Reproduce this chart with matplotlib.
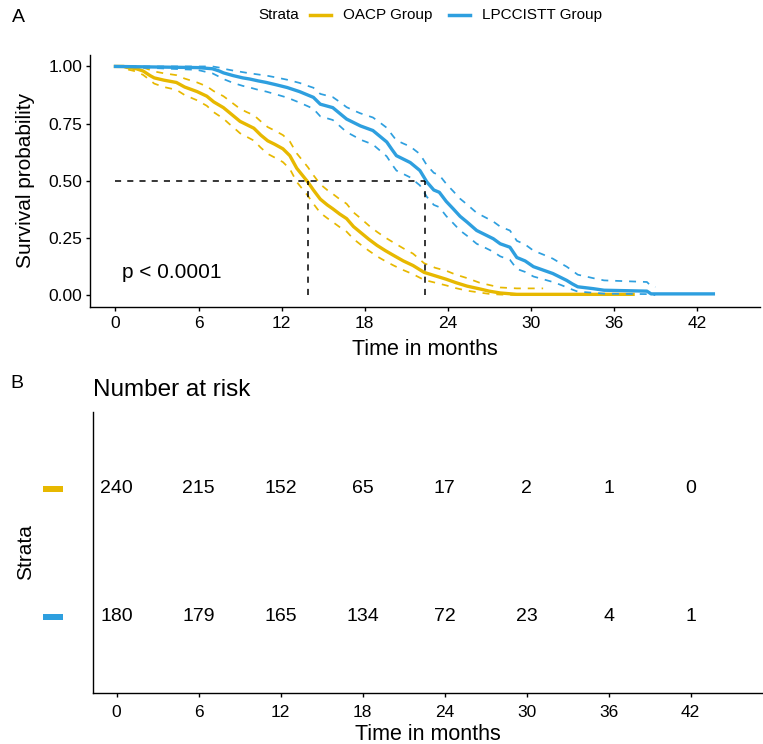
import numpy as np
import matplotlib.pyplot as plt
from matplotlib.lines import Line2D
from matplotlib.patches import Rectangle

plt.rcParams['font.family'] = ['Liberation Sans', 'DejaVu Sans']

W, H = 763, 744
yellow = '#E7B800'
blue = '#2E9FDF'

groups = ['OACP Group', 'LPCCISTT Group']

# Kaplan-Meier curves (time, survival, CI bounds)
oacp_t = [0, 0.6, 0.8, 1.5, 2.0, 2.5, 2.8, 3.5, 4.4, 5.0, 5.9, 6.6, 7.1, 7.8, 8.2, 8.5, 9.0, 9.5,
          10.0, 10.5, 11.0, 11.5, 12.1, 12.6, 13.1, 13.5, 13.9, 14.3, 14.8, 15.3, 15.7, 16.2,
          16.7, 17.2, 17.7, 18.3, 18.9, 19.5, 20.1, 20.8, 21.5, 22.3, 23.1, 23.9, 24.6, 25.4,
          26.3, 27.0, 27.8, 29.0, 30.9, 37.4]
oacp_s = [1.0, 1.0, 0.996, 0.99, 0.98, 0.96, 0.95, 0.94, 0.93, 0.91, 0.89, 0.87, 0.845, 0.82,
          0.80, 0.785, 0.76, 0.745, 0.73, 0.70, 0.675, 0.66, 0.64, 0.61, 0.555, 0.525, 0.495,
          0.46, 0.42, 0.395, 0.378, 0.355, 0.335, 0.30, 0.275, 0.245, 0.218, 0.195, 0.174, 0.15,
          0.13, 0.10, 0.085, 0.07, 0.055, 0.04, 0.028, 0.018, 0.01, 0.004, 0.004, 0.004]
oacp_up = [1.0, 1.0, 1.0, 1.0, 0.995, 0.985, 0.978, 0.97, 0.962, 0.947, 0.93, 0.913, 0.892, 0.87,
           0.852, 0.838, 0.815, 0.80, 0.787, 0.76, 0.735, 0.72, 0.70, 0.672, 0.62, 0.59, 0.56,
           0.525, 0.485, 0.46, 0.443, 0.42, 0.40, 0.362, 0.337, 0.305, 0.277, 0.252, 0.23,
           0.205, 0.182, 0.14, 0.12, 0.107, 0.09, 0.075, 0.055, 0.045, 0.034, 0.03, 0.03, None]
oacp_lo = [1.0, 1.0, 0.988, 0.978, 0.963, 0.94, 0.925, 0.91, 0.898, 0.875, 0.852, 0.828, 0.80,
           0.772, 0.75, 0.735, 0.708, 0.692, 0.676, 0.645, 0.618, 0.602, 0.582, 0.552, 0.495,
           0.465, 0.435, 0.40, 0.36, 0.337, 0.32, 0.298, 0.278, 0.246, 0.222, 0.195, 0.17, 0.149,
           0.13, 0.11, 0.092, 0.067, 0.055, 0.043, 0.031, 0.02, 0.012, 0.006, 0.003, 0.001,
           0.001, 0.001]

lpcc_t = [0, 5.9, 7.0, 7.5, 7.8, 8.5, 9.2, 9.7, 10.3, 10.9, 11.6, 12.4, 13.3, 13.9, 14.3, 14.8,
          15.7, 16.2, 16.7, 17.2, 17.7, 18.6, 19.1, 19.6, 20.0, 20.3, 20.8, 21.3, 22.0, 22.5,
          23.0, 23.4, 23.9, 24.4, 24.9, 25.4, 26.1, 26.8, 27.3, 27.8, 28.5, 29.0, 29.6, 30.2,
          30.9, 31.6, 32.1, 32.6, 33.0, 33.4, 34.5, 35.3, 38.4, 38.7, 39.0, 43.2]
lpcc_s = [1.0, 0.995, 0.99, 0.98, 0.972, 0.96, 0.95, 0.945, 0.937, 0.93, 0.92, 0.908, 0.89,
          0.875, 0.865, 0.835, 0.82, 0.795, 0.77, 0.755, 0.74, 0.72, 0.695, 0.67, 0.635, 0.61,
          0.595, 0.58, 0.545, 0.495, 0.46, 0.45, 0.41, 0.378, 0.345, 0.32, 0.283, 0.262, 0.247,
          0.225, 0.21, 0.165, 0.15, 0.125, 0.11, 0.095, 0.08, 0.065, 0.05, 0.037, 0.029, 0.022,
          0.018, 0.006, 0.006, 0.006]
lpcc_up = [1.0, 1.0, 1.0, 0.995, 0.99, 0.982, 0.975, 0.97, 0.965, 0.96, 0.952, 0.942, 0.928,
           0.915, 0.907, 0.88, 0.866, 0.845, 0.822, 0.808, 0.795, 0.777, 0.755, 0.732, 0.70,
           0.677, 0.663, 0.65, 0.617, 0.568, 0.535, 0.525, 0.487, 0.455, 0.422, 0.397, 0.36,
           0.338, 0.322, 0.30, 0.283, 0.238, 0.222, 0.195, 0.178, 0.16, 0.142, 0.125, 0.108,
           0.09, 0.075, 0.065, 0.058, 0.04, 0.036, None]
lpcc_lo = [1.0, 0.985, 0.97, 0.955, 0.945, 0.928, 0.915, 0.908, 0.898, 0.89, 0.878, 0.864, 0.842,
           0.826, 0.815, 0.782, 0.766, 0.74, 0.713, 0.697, 0.68, 0.659, 0.633, 0.607, 0.57,
           0.545, 0.53, 0.515, 0.48, 0.43, 0.395, 0.385, 0.346, 0.315, 0.283, 0.26, 0.225, 0.205,
           0.19, 0.17, 0.155, 0.115, 0.102, 0.082, 0.07, 0.058, 0.047, 0.035, 0.025, 0.016,
           0.011, 0.007, 0.005, 0.001, 0.001, None]

medians = [13.9, 22.4]

risk_times = [0, 6, 12, 18, 24, 30, 36, 42]
risk_oacp = [240, 215, 152, 65, 17, 2, 1, 0]
risk_lpcc = [180, 179, 165, 134, 72, 23, 4, 1]


def fx(px):
    return px / W


def fy(py):
    return 1 - py / H


def curve(ax, t, v, **kw):
    pts = [(a, b) for a, b in zip(t, v) if b is not None]
    ax.plot([p[0] for p in pts], [p[1] for p in pts], **kw)


fig = plt.figure(figsize=(W / 100, H / 100), dpi=100)

# ---- panel A: survival curves
ax = fig.add_axes([fx(90), fy(306.7), (760 - 90) / W, (306.7 - 55) / H])
dash = (0, (4, 4))
for t, s, up, lo, c in [(oacp_t, oacp_s, oacp_up, oacp_lo, yellow),
                        (lpcc_t, lpcc_s, lpcc_up, lpcc_lo, blue)]:
    curve(ax, t, up, color=c, lw=1.25, ls=dash)
    curve(ax, t, lo, color=c, lw=1.25, ls=dash)
    curve(ax, t, s, color=c, lw=2.4)

ax.plot([0, max(medians)], [0.5, 0.5], color='black', lw=1.1, ls=dash, zorder=5)
for m in medians:
    ax.plot([m, m], [0, 0.5], color='black', lw=1.1, ls=dash, zorder=5)

ax.text(0.5, 0.1, 'p < 0.0001', fontsize=15, ha='left', va='center')

ax.set_xlim(-1.84, 46.57)
ax.set_ylim(-0.05, 1.05)
ax.set_xticks(risk_times)
ax.set_yticks([0, 0.25, 0.5, 0.75, 1.0])
ax.set_yticklabels(['0.00', '0.25', '0.50', '0.75', '1.00'])
ax.set_xlabel('Time in months', fontsize=15.5, labelpad=5.5)
ax.set_ylabel('Survival probability', fontsize=15, labelpad=10)
for sp in ['top', 'right']:
    ax.spines[sp].set_visible(False)
for sp in ['left', 'bottom']:
    ax.spines[sp].set_linewidth(1.0)
ax.tick_params(labelsize=12.5, length=3, width=1.0, pad=2.5, colors='black')
ax.tick_params(axis='x', pad=4)

# legend at top
fig.text(fx(258), fy(15), 'Strata', fontsize=11, ha='left', va='center')
for (x0, x1, tx), c, g in zip([(310, 331, 343), (449, 470, 482)], [yellow, blue], groups):
    fig.add_artist(Line2D([fx(x0), fx(x1)], [fy(15), fy(15)], color=c, lw=2.5))
    fig.text(fx(tx), fy(15), g, fontsize=11, ha='left', va='center')

fig.text(fx(18), fy(17), 'A', fontsize=14, ha='center', va='center')
fig.text(fx(17), fy(383), 'B', fontsize=14, ha='center', va='center')

# ---- panel B: number at risk
bx = fig.add_axes([fx(93.3), fy(692.7), (761.8 - 93.3) / W, (692.7 - 411.7) / H])
for n_row, yrow in [(risk_oacp, 2), (risk_lpcc, 1)]:
    for t, n in zip(risk_times, n_row):
        bx.text(t, yrow, str(n), fontsize=14, ha='center', va='center')
bx.set_xlim(-1.71, 47.2)
bx.set_ylim(0.4, 2.6)
bx.set_xticks(risk_times)
bx.set_yticks([])
bx.set_xlabel('Time in months', fontsize=15.5, labelpad=3.5)
bx.set_ylabel('Strata', fontsize=15, labelpad=42)
bx.set_title('Number at risk', fontsize=17.5, loc='left', pad=11)
for sp in ['top', 'right']:
    bx.spines[sp].set_visible(False)
for sp in ['left', 'bottom']:
    bx.spines[sp].set_linewidth(1.0)
bx.tick_params(labelsize=12.5, length=3, width=1.0, pad=5.5, colors='black')

for yrow, c in [(489, yellow), (617, blue)]:
    fig.add_artist(Rectangle((fx(42.7), fy(yrow + 3)), (63.3 - 42.7) / W, 6 / H,
                             transform=fig.transFigure, color=c, lw=0))

fig.savefig('out.png', dpi=100)
